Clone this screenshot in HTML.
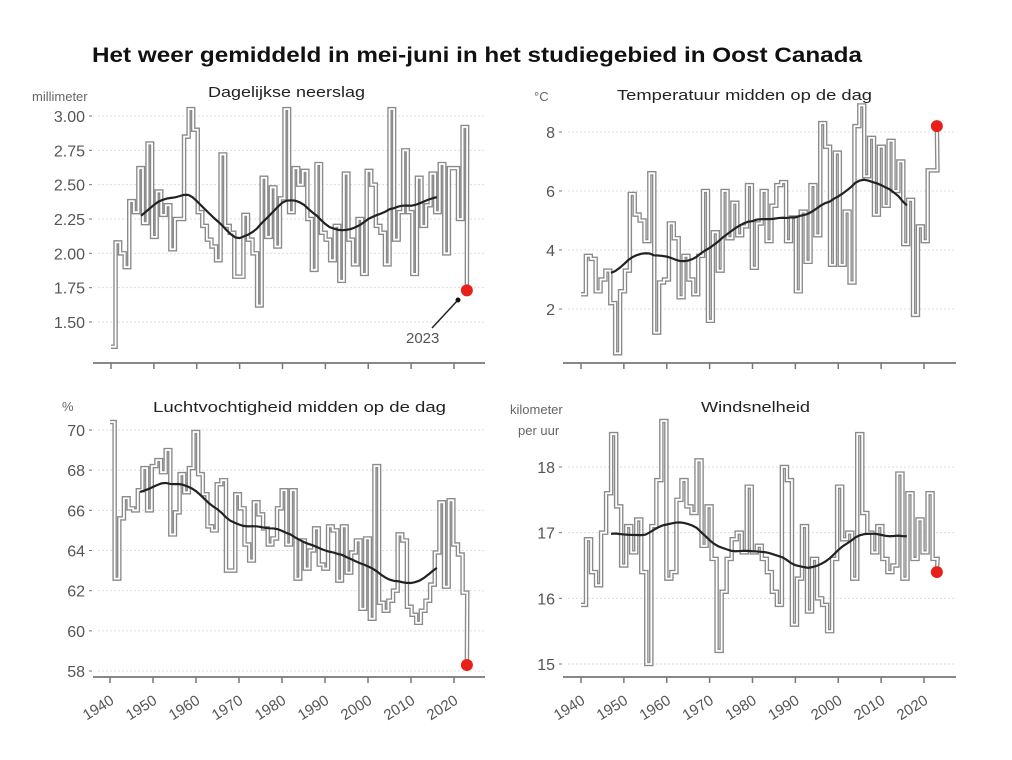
<!DOCTYPE html>
<html><head><meta charset="utf-8"><style>
body{margin:0;background:#fff;}
svg{display:block;font-family:"Liberation Sans",sans-serif;}
</style></head><body>
<svg id="s" width="1012" height="760" xmlns="http://www.w3.org/2000/svg">
<rect width="1012" height="760" fill="#fff"/>
<text x="92" y="62" font-size="21" font-weight="bold" fill="#111" textLength="770" lengthAdjust="spacingAndGlyphs">Het weer gemiddeld in mei-juni in het studiegebied in Oost Canada</text>
</svg>
<script>
const S=document.getElementById('s');let h='';
const P=[
{x0:111,x1:454,ax:363,axL:93,axR:485,yv1:3.0,yp1:116,yv2:1.5,yp2:322,lab:88,ticks:[3.0,2.75,2.5,2.25,2.0,1.75,1.5],fmt:v=>v.toFixed(2),
 title:"Dagelijkse neerslag",tx:208,tw:157,ty:97,unit:["millimeter"],ux:32,uy:101,years:false,dot:1.73,
 d:[1.32,2.08,2.0,1.9,2.38,2.3,2.62,2.22,2.8,2.12,2.45,2.28,2.35,2.03,2.25,2.25,2.85,3.05,2.9,2.3,2.2,2.1,2.05,1.95,2.72,2.2,2.15,1.83,1.83,2.28,2.1,2.0,1.62,2.55,2.12,2.48,2.05,2.4,3.05,2.3,2.62,2.5,2.6,2.25,1.88,2.65,2.15,2.1,1.95,2.2,1.8,2.58,2.1,1.92,2.25,1.85,2.6,2.5,2.2,2.15,1.92,3.05,2.1,2.3,2.75,2.3,1.85,2.55,2.2,2.35,2.58,2.3,2.65,2.0,2.62,2.62,2.25,2.92]},
{x0:581,x1:924,ax:363,axL:563,axR:956,yv1:8,yp1:132,yv2:2,yp2:309,lab:558,ticks:[8,6,4,2],fmt:v=>v,
 title:"Temperatuur midden op de dag",tx:617,tw:255,ty:100,unit:["°C"],ux:534,uy:101,years:false,dot:8.2,
 d:[2.5,3.8,3.7,2.6,3.0,3.3,2.2,0.5,2.6,3.3,5.9,5.2,5.0,4.3,6.6,1.2,2.9,3.0,4.9,4.4,2.4,3.8,3.0,2.5,3.8,6.0,1.6,4.6,3.3,6.0,4.4,5.6,4.5,4.8,6.2,3.4,4.9,6.0,4.3,5.5,6.2,6.3,4.3,5.1,2.6,5.3,3.6,6.2,4.5,8.3,7.5,3.5,7.3,3.5,5.3,2.9,8.2,8.9,6.5,7.8,5.2,7.5,5.5,7.7,6.0,7.0,4.2,5.7,1.8,4.8,4.3,6.7,6.7]},
{x0:110,x1:454,ax:677,axL:93,axR:485,yv1:70,yp1:430,yv2:58,yp2:671,lab:88,ticks:[70,68,66,64,62,60,58],fmt:v=>v,
 title:"Luchtvochtigheid midden op de dag",tx:153,tw:293,ty:412,unit:["%"],ux:62,uy:411,years:true,dot:58.3,
 d:[70.4,62.6,65.6,66.6,66.1,66.0,67.0,68.1,66.0,68.2,68.5,67.9,69.0,64.8,65.9,67.8,66.9,68.1,69.9,67.8,66.8,65.2,65.0,67.3,67.5,63.0,63.0,66.8,66.1,64.3,63.5,66.4,65.8,65.1,64.3,64.6,66.1,67.0,64.3,67.0,62.6,64.5,63.1,64.0,65.1,63.3,63.1,65.2,65.0,62.5,65.2,62.9,63.9,64.5,61.1,64.6,60.6,68.2,61.4,61.0,61.5,62.0,64.8,64.5,61.2,60.8,60.4,61.0,61.5,62.3,63.9,66.4,62.2,66.5,64.3,63.8,61.9]},
{x0:581,x1:924,ax:677,axL:563,axR:956,yv1:18,yp1:467,yv2:15,yp2:664,lab:558,ticks:[18,17,16,15],fmt:v=>v,
 title:"Windsnelheid",tx:701,tw:109,ty:412,unit:["kilometer","per uur"],ux:510,uy:414,years:true,dot:16.4,
 d:[15.9,16.9,16.4,16.2,17.0,17.6,18.5,17.4,16.5,17.1,16.7,17.2,16.4,15.0,17.1,17.8,18.7,16.3,16.4,17.5,17.8,17.4,17.3,18.1,16.8,17.4,16.6,15.2,16.1,16.6,16.9,17.0,16.7,17.7,16.7,16.8,16.6,16.4,16.1,15.9,18.0,17.8,15.6,16.3,17.1,15.8,16.6,16.0,15.9,15.5,16.6,17.7,16.9,17.0,16.3,18.5,17.3,17.0,16.7,17.1,16.6,16.4,16.5,17.9,16.3,17.6,16.6,17.2,16.7,17.6,16.6]}
];
P.forEach(p=>{
 const X=y=>p.x0+(y-1940)*(p.x1-p.x0)/80;
 const Y=v=>p.yp1+(v-p.yv1)*(p.yp2-p.yp1)/(p.yv2-p.yv1);
 h+=`<text x="${p.tx}" y="${p.ty}" font-size="15" fill="#222" textLength="${p.tw}" lengthAdjust="spacingAndGlyphs">${p.title}</text>`;
 p.unit.forEach((u,i)=>h+=`<text x="${p.ux+(i?8:0)}" y="${p.uy+i*21}" font-size="13" fill="#666">${u}</text>`);
 p.ticks.forEach(t=>{const y=Y(t);
  h+=`<line x1="${p.lab+10}" x2="${p.axR}" y1="${y}" y2="${y}" stroke="#ddd" stroke-dasharray="2,2"/>`;
  h+=`<text x="${p.lab-3}" y="${y+6}" font-size="16" text-anchor="end" fill="#555">${p.fmt(t)}</text>`;
  h+=`<line x1="${p.lab+1}" x2="${p.lab+4}" y1="${y}" y2="${y}" stroke="#777"/>`;});
 h+=`<line x1="${p.axL}" x2="${p.axR}" y1="${p.ax}" y2="${p.ax}" stroke="#888" stroke-width="2"/>`;
 for(let yr=1940;yr<=2020;yr+=10){const x=X(yr);
  h+=`<line x1="${x}" x2="${x}" y1="${p.ax}" y2="${p.ax+6}" stroke="#777" stroke-width="1.5"/>`;
  if(p.years)h+=`<text transform="translate(${x+5},${p.ax+26}) rotate(-32)" font-size="15" text-anchor="end" fill="#555">${yr}</text>`;}
 const n=p.d.length,step=82/(n-1);
 let path='';
 p.d.forEach((v,i)=>{const x=X(1940+i*step),y=Y(v);path+=(i?'L':'M')+x+','+y+' L'+(X(1940+(i+1)*step))+','+y+' ';});
 path+=`L${X(2023)},${Y(p.dot)}`;
 h+=`<path d="${path}" fill="none" stroke="#8a8a8a" stroke-width="4.5"/>`;
 h+=`<path d="${path}" fill="none" stroke="#fff" stroke-width="1.8"/>`;
 let m='';const yrs=2016-1947;
 for(let k=0;k<=yrs;k++){const yr=1947+k;const c=(yr-1940)/step;let s=0,w=0;
  for(let j=Math.floor(c-10);j<=Math.ceil(c+10);j++){if(j>=0&&j<n){const ww=Math.max(0,10-Math.abs(j-c));s+=p.d[j]*ww;w+=ww;}}
  m+=(k?'L':'M')+X(yr)+','+Y(s/w)+' ';}
 h+=`<path d="${m}" fill="none" stroke="#222" stroke-width="2.2"/>`;
 h+=`<circle cx="${X(2023)}" cy="${Y(p.dot)}" r="6" fill="#e8201a"/>`;
});
h+=`<line x1="432" y1="328" x2="458" y2="300" stroke="#222" stroke-width="1.5"/><circle cx="458" cy="300" r="2.5" fill="#111"/>`;
h+=`<text x="406" y="343" font-size="15" fill="#555">2023</text>`;
S.insertAdjacentHTML('beforeend',h);
</script>
</body></html>
